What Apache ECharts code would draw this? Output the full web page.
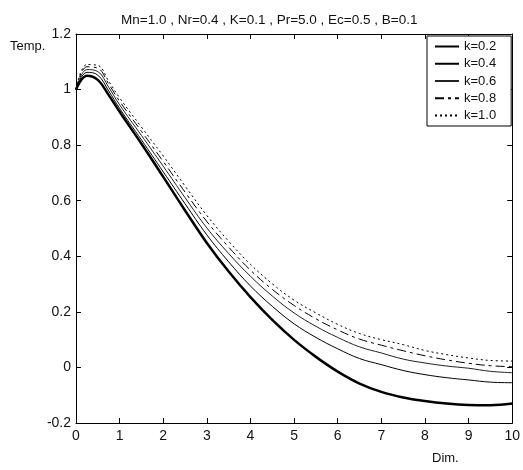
<!DOCTYPE html>
<html>
<head>
<meta charset="utf-8">
<script src="https://cdn.jsdelivr.net/npm/echarts@6/dist/echarts.min.js"></script>
<style>
  html, body { margin: 0; padding: 0; background: #fff; }
  #chart { width: 523px; height: 470px; }
</style>
</head>
<body>
<div id="chart"></div>
<script>
// Dimensionless distance (x-axis samples)
const xs = [0, 0.25, 0.5, 0.75, 1, 1.5, 2, 2.5, 3, 3.5, 4, 4.5, 5, 5.5, 6, 6.5, 7, 7.5, 8, 8.5, 9, 9.5, 10];

// Temperature profiles for each k
const k02 = [1.0, 1.05, 1.035, 0.98, 0.92, 0.805, 0.686, 0.565, 0.448, 0.345, 0.253, 0.171, 0.099, 0.038, -0.015, -0.058, -0.088, -0.108, -0.121, -0.13, -0.135, -0.136, -0.13];
const k04 = [1.0, 1.062, 1.052, 0.995, 0.932, 0.819, 0.704, 0.589, 0.477, 0.38, 0.293, 0.22, 0.157, 0.108, 0.067, 0.032, 0.01, -0.011, -0.026, -0.037, -0.045, -0.053, -0.055];
const k06 = [1.0, 1.072, 1.065, 1.008, 0.945, 0.835, 0.724, 0.611, 0.502, 0.41, 0.328, 0.257, 0.196, 0.148, 0.108, 0.074, 0.052, 0.03, 0.016, 0.005, -0.003, -0.014, -0.019];
const k08 = [1.0, 1.082, 1.077, 1.02, 0.958, 0.85, 0.741, 0.631, 0.525, 0.433, 0.35, 0.281, 0.223, 0.175, 0.135, 0.102, 0.08, 0.06, 0.042, 0.027, 0.015, 0.006, 0.003];
const k10 = [1.0, 1.09, 1.087, 1.03, 0.97, 0.865, 0.761, 0.653, 0.547, 0.454, 0.371, 0.301, 0.242, 0.196, 0.155, 0.122, 0.1, 0.082, 0.061, 0.046, 0.034, 0.025, 0.023];

const seriesNames = ['k=0.2', 'k=0.4', 'k=0.6', 'k=0.8', 'k=1.0'];
const seriesData = [k02, k04, k06, k08, k10];
const lineStyles = [
  { width: 2.5, type: 'solid', color: '#000' },
  { width: 1, type: 'solid', color: '#000' },
  { width: 1, type: 'solid', color: '#222' },
  { width: 1, type: [9, 4, 3, 4], color: '#000' },
  { width: 1, type: [2, 3], color: '#000' }
];

const titleText = 'Mn=1.0 , Nr=0.4 , K=0.1 , Pr=5.0 , Ec=0.5 , B=0.1';
const FONT = '"Liberation Sans", Arial, sans-serif';

const chart = echarts.init(document.getElementById('chart'), null, { renderer: 'canvas' });

const fmt = v => String(Math.round(v * 10) / 10);

function axis(extra) {
  return Object.assign({
    type: 'value',
    axisLine: { show: true, onZero: false, lineStyle: { color: '#000', width: 1 } },
    axisTick: { show: true, inside: true, length: 5, lineStyle: { color: '#000' } },
    splitLine: { show: false }
  }, extra);
}

chart.setOption({
  animation: false,
  backgroundColor: '#fff',
  title: {
    text: titleText,
    left: 116,
    top: 8,
    textStyle: { fontFamily: FONT, fontSize: 13.5, fontWeight: 'normal', color: '#111' }
  },
  legend: {
    orient: 'vertical',
    left: 427,
    top: 36,
    padding: [4, 15, 4, 7],
    itemWidth: 24,
    itemHeight: 9,
    itemGap: 4.25,
    borderColor: '#000',
    borderWidth: 1,
    backgroundColor: '#fff',
    itemStyle: { color: 'transparent', borderColor: 'transparent', borderWidth: 0 },
    textStyle: { fontFamily: FONT, fontSize: 13, color: '#111' },
    data: seriesNames
  },
  grid: { left: 76, right: 7, top: 34, bottom: 47, containLabel: false },
  xAxis: [
    axis({
      position: 'bottom', min: 0, max: 10, interval: 1,
      axisLabel: { fontFamily: FONT, fontSize: 14, color: '#111', margin: 6, formatter: fmt }
    }),
    axis({
      position: 'top', min: 0, max: 10, interval: 1,
      axisLabel: { show: false }
    })
  ],
  yAxis: [
    axis({
      position: 'left', min: -0.2, max: 1.2, interval: 0.2,
      axisLabel: { fontFamily: FONT, fontSize: 14, color: '#111', margin: 5, formatter: fmt }
    }),
    axis({
      position: 'right', min: -0.2, max: 1.2, interval: 0.2,
      axisLabel: { show: false }
    })
  ],
  graphic: [
    { type: 'text', left: 10, top: 40, style: { text: 'Temp.', font: '13px ' + FONT, fill: '#111' } },
    { type: 'text', left: 432, top: 452, style: { text: 'Dim.', font: '13px ' + FONT, fill: '#111' } }
  ],
  series: seriesNames.map((name, i) => ({
    name: name,
    type: 'line',
    xAxisIndex: 0,
    yAxisIndex: 0,
    smooth: 0.4,
    symbol: 'none',
    lineStyle: lineStyles[i],
    itemStyle: { color: lineStyles[i].color },
    data: xs.map((x, j) => [x, seriesData[i][j]])
  }))
});
</script>
</body>
</html>
